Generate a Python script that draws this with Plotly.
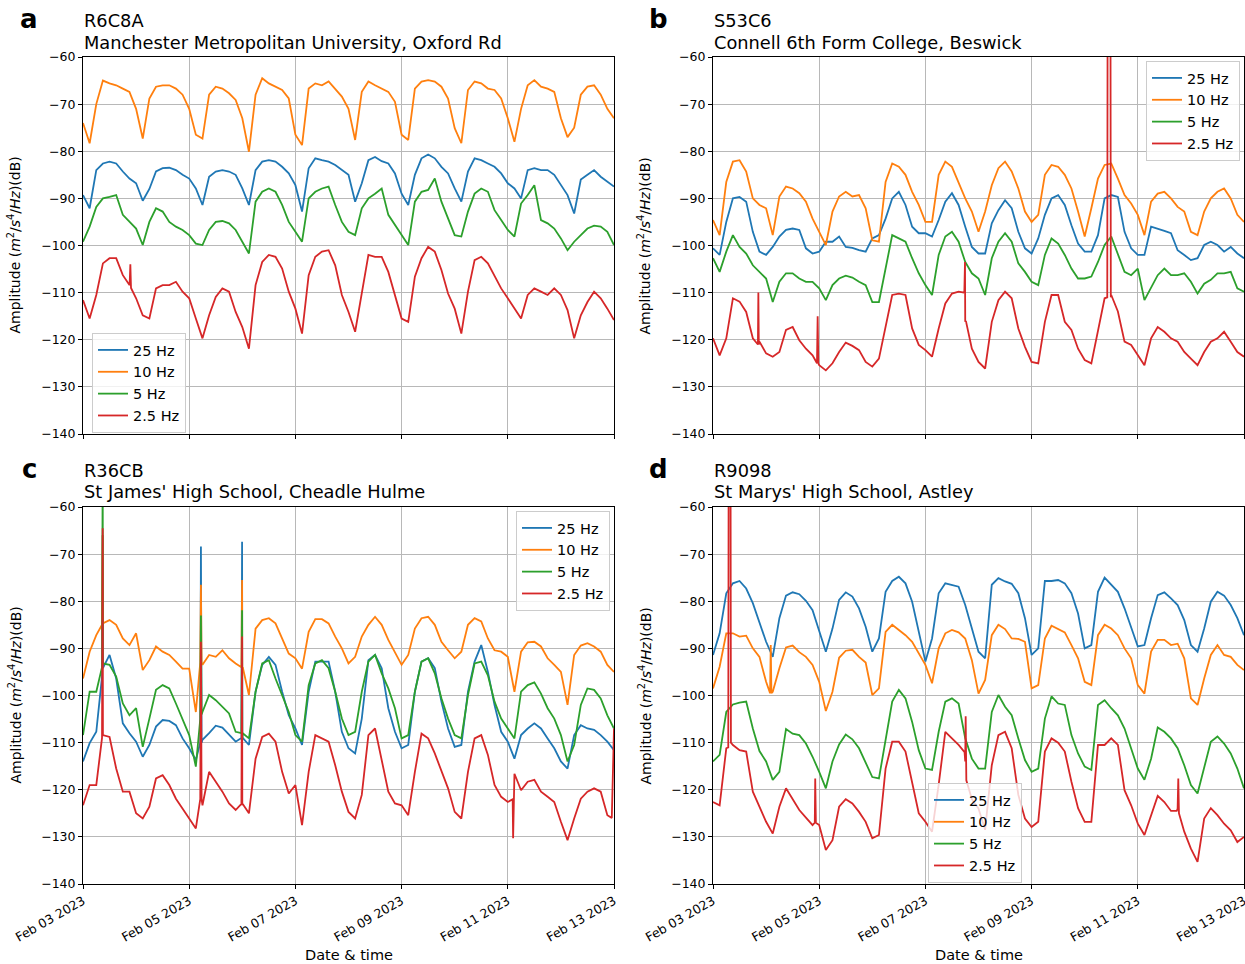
import numpy as np
import pandas as pd
import plotly.graph_objects as go

# ---------------------------------------------------------------- data
START = pd.Timestamp("2023-02-03 00:00")
HOURS = np.arange(0, 241, 3)          # 3-hourly samples, Feb 03 -> Feb 13
TICK_LABELS = ["Feb 03 2023", "Feb 05 2023", "Feb 07 2023",
               "Feb 09 2023", "Feb 11 2023", "Feb 13 2023"]
Y_TICKS = list(range(-140, -59, 10))
NAMES = ["25 Hz", "10 Hz", "5 Hz", "2.5 Hz"]
COLORS = ["#1f77b4", "#ff7f0e", "#2ca02c", "#d62728"]

# ---- panel a : R6C8A
a_25 = [-89.3, -92.1, -84, -82.6, -82.2, -82.6, -84.3, -85.8, -86.8, -90.5, -88, -84.3, -83.6, -83.5, -84, -85, -85.8, -87.9, -91.4, -85.4, -84.3, -84, -84.3, -85, -87.9, -91.4, -84, -82.2, -81.9, -82.2, -83.3, -84.7, -87.2, -92.8, -83.6, -81.5, -81.9, -82.2, -82.9, -84, -85,
        -90.7, -86.8, -81.9, -81.2, -82.1, -82.6, -84.7, -89, -91.4, -85, -81.5, -80.7, -81.5, -83.3, -84.7, -87.9, -90.7, -84.3, -81.5, -81.9, -82.6, -83.3, -84.7, -86.8, -87.9, -90, -84, -83.6, -84, -84, -85, -87.2, -89.3, -93.2, -86, -85, -84, -85.4, -86.5, -87.5]
a_10 = [-74, -78.3, -70, -65, -65.6, -66, -66.7, -67.4, -71, -77.3, -68.8, -66.3, -66, -66, -66.7, -68, -71, -76.5, -77.3, -68, -66.3, -66.7, -67.7, -69.1, -73, -80.1, -68, -64.5, -65.6, -66.3, -67, -68.8, -76.5, -78.7, -66.7, -65.6, -66, -65.2, -66.7, -68.4, -71,
        -77.6, -67.4, -65.2, -66, -66.7, -67.4, -69.5, -76.5, -77.6, -66.7, -65.2, -64.9, -65.2, -66.3, -68.8, -75.1, -78.3, -67, -65.2, -65.6, -66.7, -67, -68.8, -73, -78, -71, -66, -64.9, -66.3, -66.7, -67.4, -73, -77, -75, -68, -66.3, -66, -68, -71, -73]
a_5 = [-99.2, -96, -91.8, -90, -89.7, -89.3, -93.5, -95, -96.4, -99.9, -95, -92.1, -92.8, -95, -96, -96.7, -97.8, -99.6, -99.9, -96.7, -95, -94.8, -95.3, -96.7, -99.2, -101.7, -90.7, -88.6, -87.9, -88.6, -91.4, -95, -97.1, -99.2, -90, -88.6, -87.9, -87.5, -91.4, -95, -97.1,
       -97.8, -92.1, -90, -89, -87.9, -93.5, -95.7, -97.8, -99.9, -90.7, -88.6, -88.2, -85.8, -90.7, -94.3, -97.8, -98.1, -92.8, -89, -87.9, -88.6, -92.5, -94.6, -96.7, -98.1, -91.1, -89.3, -87.2, -94.6, -95.3, -96.4, -98.5, -101, -99.2, -97.8, -96.4, -95.8, -96, -97.1, -99.9]
a_2p5 = [-111.6, -115.5, -110.5, -103.8, -102.7, -102.7, -106.3, -108.4, -111.2, -114.8, -115.5, -109.1, -108.4, -108.4, -107.7, -109.8, -111.2, -115.5, -119.7, -114.8, -110.9, -109.1, -109.8, -114.1, -117.3, -121.9, -108.4, -103.5, -102, -102.4, -104.9, -109.8, -113.4, -118.7, -106.3, -102.4, -101.3, -101, -104.2, -110.5, -114.1,
         -118.3, -110.5, -102, -102.4, -102.4, -105.6, -110.5, -115.5, -116.2, -106.6, -102.7, -100.3, -101.3, -105.2, -110.2, -113.4, -118.7, -109.8, -103.1, -102.4, -103.8, -106.3, -109.1, -111.2, -113.4, -115.5, -110.5, -109.1, -109.8, -110.5, -109.1, -110.5, -113.7, -119.7, -114.8, -112, -109.8, -111.2, -113.4, -115.8]
a_red_extra_t = [21.1, 21.4, 21.7]
a_red_extra_v = [-108, -104, -109]

# ---- panel b : S53C6
b_25 = [-100.6, -102, -95, -90, -89.7, -90.7, -97.1, -101.3, -102, -100.3, -98.1, -96.7, -96.4, -96.7, -100.6, -101.7, -101.3, -99.2, -99.2, -98.1, -100.3, -100.5, -101, -101.3, -98.5, -97.8, -94.3, -90, -88.6, -91.4, -96, -97.4, -97.4, -98.1, -94.6, -90.7, -88.9, -91.4, -96, -100.3, -101.7,
        -101.7, -95.3, -92.5, -90.4, -92.1, -97.1, -100.6, -101.7, -98.5, -93.5, -90, -89.3, -91.4, -95.7, -99.6, -101.3, -101.3, -97.8, -90, -89.3, -89.7, -97.1, -100.6, -102, -102, -96, -96.4, -96.9, -97.4, -101, -102, -103.1, -102.7, -99.9, -99.2, -99.9, -101.3, -100.3, -101.7, -102.7]
b_10 = [-94.6, -97.8, -86.5, -82.2, -81.9, -84.3, -90, -91.4, -92.1, -97.8, -89.6, -87.5, -87.9, -88.9, -90.7, -94.3, -97.1, -99.9, -92.8, -89.6, -88.6, -89.6, -89.3, -92.1, -98.9, -99.2, -86.5, -82.6, -83.3, -85, -88.6, -91.4, -95, -95, -85, -82.2, -83.3, -86.5, -90, -92.8, -97.1,
        -92.8, -87.2, -83.6, -82.2, -84.3, -87.9, -92.8, -95, -93.5, -85, -82.9, -83.3, -85, -87.9, -92.8, -98.1, -92.1, -85.8, -82.9, -82.6, -85.8, -89.3, -91.1, -93.5, -97.8, -90.7, -89, -88.6, -90, -91.8, -92.8, -97.1, -97.8, -92.8, -90, -88.6, -87.9, -90, -93.5, -95]
b_5 = [-102.7, -105.6, -101.3, -97.8, -100.3, -101.7, -104.2, -105.6, -107, -112, -107.7, -105.9, -105.9, -107, -107.7, -107.7, -109.1, -111.6, -108.4, -107, -106.4, -106.8, -107.7, -108.4, -112, -112, -104.9, -97.8, -98.5, -99.2, -102.7, -105.9, -108.4, -110.5, -102, -98.1, -97.1, -99.2, -103.5, -105.9, -107,
       -110.5, -102.7, -99.2, -97.4, -99.2, -103.8, -105.6, -107.7, -108.4, -102, -98.5, -99.6, -102, -104.9, -107, -107, -106.6, -103.5, -99.9, -98.1, -102, -105.6, -106.3, -104.9, -111.6, -108.8, -106.3, -104.9, -106.3, -106.3, -105.9, -107.7, -110.2, -108.1, -107.3, -105.9, -105.9, -105.6, -109.1, -109.8]
b_2p5 = [-119.7, -123.3, -119.7, -111.2, -111.9, -114.1, -119.7, -120.4, -122.9, -123.6, -122.6, -117.9, -117.3, -120.1, -121.9, -123.3, -125.4, -126.5, -125, -122.6, -120.6, -121.3, -122.2, -124.7, -125.7, -124, -116.9, -110.5, -110.2, -110.5, -117.6, -121.1, -122.2, -123.6, -117.6, -112.3, -110.2, -109.8, -116.2, -121.9, -124.7,
         -126.1, -116.2, -111.6, -109.8, -111.2, -117.6, -121.5, -124.7, -125, -116.2, -110.5, -110.5, -116.2, -117.9, -121.9, -124.3, -125, -118.3, -111.2, -110.5, -114, -120.4, -121.1, -123.3, -125.4, -119.7, -117.3, -118.3, -119.7, -120.4, -122.6, -124, -125.4, -122.6, -120.4, -119.7, -118.3, -120.4, -122.6, -123.6]
b_red_extra_t = [20.3, 20.5, 20.7, 47.0, 47.3, 47.6, 113.6, 113.9, 114.3, 178.2, 178.4, 179.6, 179.8]
b_red_extra_v = [-121, -110, -121, -125, -115, -125, -110, -103.5, -116, -111, -30, -30, -111]

# ---- panel c : R36CB
c_25 = [-114, -110.1, -107.7, -94.2, -91.4, -96.4, -105.9, -108, -109.8, -113, -110.5, -106.6, -105.2, -105.4, -106.3, -109.1, -111.2, -113.7, -109.4, -108, -106.4, -106.8, -108.4, -109.8, -109.1, -110.5, -99.2, -93.5, -91.8, -93.5, -99.2, -104.2, -107, -110.5, -99.2, -92.8, -92.8, -92.8, -99.2, -107.7, -111.2,
        -112.3, -104.9, -92.5, -91.4, -94.2, -102.7, -107.7, -111.2, -110.5, -99.2, -92.8, -92.1, -94.2, -101.3, -107, -110.9, -110.5, -99.2, -92.8, -89.3, -95, -102, -107.7, -109.8, -113.4, -108.4, -107, -105.9, -107, -109.1, -111.2, -114, -115.5, -108.4, -106.3, -107, -107.3, -108.4, -109.8, -111.6]
c_10 = [-96.4, -90.7, -87.2, -84.7, -84, -85, -87.9, -89.3, -86.8, -94.6, -92.5, -89.6, -90.7, -91.4, -92.8, -94.3, -94.3, -103.5, -93.5, -91.4, -91.8, -90.4, -92.1, -93.2, -95, -99.9, -85.8, -84, -83.6, -84.7, -87.9, -91.1, -92.1, -94.3, -86.5, -83.8, -83.8, -84.7, -87.5, -90, -93.2,
        -91.8, -87.5, -85, -83.3, -85, -88.2, -90.7, -93.5, -91.4, -85.8, -83.6, -83.3, -85, -88.6, -90.4, -92.1, -90.7, -85, -83.6, -84.3, -87.9, -90.4, -90.7, -91.8, -99.2, -90.7, -88.7, -88.6, -89.6, -92.1, -93.5, -95, -102, -91.4, -89.4, -88.9, -89.6, -90.7, -93.5, -95]
c_5 = [-108.4, -99.2, -99.2, -93.2, -93.5, -96, -101.7, -104.2, -102.7, -110.9, -104.9, -98.8, -97.8, -98.5, -101.7, -105.2, -108.4, -115.1, -103.5, -99.9, -101, -102.4, -103.8, -107.7, -109.4, -109.1, -99.2, -93.2, -92.5, -96.4, -99.9, -103.5, -108.4, -109.8, -97.8, -93.2, -92.5, -94.2, -99.2, -104.9, -108.4,
       -107.7, -99.2, -92.8, -91.4, -95.3, -98.5, -102.7, -109.1, -108.4, -99.2, -92.8, -92.1, -95.3, -100.6, -104.9, -108.4, -109.1, -99.9, -93.2, -92.8, -95.7, -101.3, -104.9, -107, -109.1, -99.2, -97.8, -97.2, -99.6, -102.7, -104.9, -108.4, -114, -110.5, -102, -98.5, -98.8, -100.6, -104.2, -107]
c_2p5 = [-123.3, -119, -119, -108.4, -108.8, -115.5, -120.4, -120.4, -125, -126.1, -123.6, -117.6, -116.9, -119, -121.9, -123.9, -126.1, -128.2, -123.3, -116.2, -118.3, -120.4, -122.9, -124.3, -123.3, -125, -113.4, -108.8, -108.1, -109.8, -116.2, -120.8, -119, -127.5, -116.2, -108.4, -109.1, -109.8, -114.8, -120.4, -124.7,
         -126.1, -121.1, -108.4, -107, -113.4, -120.4, -122.9, -123.3, -125.4, -116.2, -108.1, -109.1, -112.3, -115.8, -119.7, -124.7, -126.1, -116.2, -109.1, -108.4, -112.6, -119, -121.5, -122.6, -116.6, -120.1, -118.3, -117.9, -120.4, -121.5, -122.6, -126.8, -130.7, -126.1, -121.9, -120.4, -119.7, -120.4, -125.4, -107]
c_spike_t = [8.6, 8.9, 53.0, 53.3, 53.6, 71.6, 71.9, 72.2]
c_spike_25 = [-96, -66, -110, -68.4, -110, -109, -67.4, -109]
c_spike_10 = [-85, -66, -93, -76.5, -93, -94, -75.5, -94]
c_spike_5 = [-94, -50, -105, -83, -104, -108, -81.9, -108]
c_spike_2p5 = [-109, -64.5, -122, -88.6, -122, -123, -87.5, -123]
c_red_extra_t = [194.2, 194.4, 194.7, 239.0]
c_red_extra_v = [-122, -130.3, -118, -126]

# ---- panel d : R9098
d_25 = [-91.4, -86.8, -78.3, -76.2, -75.7, -77.3, -80.4, -84.3, -88.6, -91.8, -83.6, -78.8, -78.1, -78.5, -79.9, -81.9, -86.5, -90.7, -85.8, -79.7, -78.1, -79, -81.5, -85.4, -90.7, -87.9, -78, -75.7, -74.8, -76.2, -80.1, -86.5, -92.8, -87.9, -78.3, -76.2, -76.5, -76.9, -80.8, -85.8, -90.7,
        -92.1, -76.5, -75.1, -75.8, -76.3, -78.3, -83.6, -91.4, -90, -75.7, -75.7, -75.5, -76.2, -78.3, -82.6, -90, -89.3, -78, -75, -76.5, -78, -81.5, -85.8, -89.6, -89.3, -83.6, -78.7, -78.1, -79.4, -80.8, -84, -89.3, -90.7, -85.8, -80.1, -78, -78.8, -80.8, -83.6, -87.2]
d_10 = [-98.5, -93.9, -86.8, -86.8, -87.5, -87.3, -90, -91.8, -97.1, -99.2, -94.2, -89.8, -89.4, -90.8, -91.8, -93.5, -97.1, -103.3, -99.2, -92, -90.5, -90.3, -91.8, -93, -99.9, -98.5, -86.5, -85, -86.1, -87.2, -88.6, -91.1, -93.5, -97.4, -90, -86.8, -86.1, -86.6, -87.9, -92.5, -99.6,
        -96.7, -87.2, -85, -85.9, -87.9, -88, -88.6, -98.5, -97.8, -87.9, -85.2, -85.9, -86.6, -89.3, -92.1, -97.1, -97.8, -87.2, -85, -85.8, -87.2, -90, -92.1, -97.8, -99.6, -90.7, -88.2, -88.2, -89.3, -89, -92.1, -100.6, -102, -96.4, -91.4, -89.3, -91.4, -91.8, -93.5, -94.6]
d_5 = [-114, -112.6, -103.5, -101.9, -101.5, -101.3, -107, -111.8, -114, -117.9, -116.2, -107.1, -108.1, -108.4, -110.2, -113, -116.2, -119.7, -114, -110.4, -108.3, -109.3, -111.2, -114.4, -117.3, -117.6, -109.1, -101.3, -98.8, -100.6, -105.6, -111.6, -115.5, -115.8, -107.7, -101.3, -100.6, -101.7, -109.1, -113.4, -115.5,
       -115.5, -103.5, -99.9, -102.4, -104.2, -109.1, -113.7, -116.2, -115.5, -104.9, -100.2, -101.7, -102, -108.4, -112.3, -115.1, -115.8, -102, -101, -102.7, -104.2, -107, -111.2, -115.5, -117.9, -113.4, -106.8, -107.7, -109.1, -111.2, -114.8, -119, -120.8, -115.5, -109.8, -108.7, -110.2, -112.3, -115.5, -119.7]
d_2p5 = [-122.6, -123.3, -111.2, -110.5, -111.6, -111.9, -120.4, -123.6, -126.8, -129.3, -123.6, -119.7, -122, -124.3, -125.9, -127.5, -127.5, -132.8, -130.7, -123.6, -122, -122.9, -124.7, -126.8, -130.3, -129.6, -115.5, -109.8, -109.8, -111.9, -118.3, -125, -126.8, -128.9, -118.9, -107.7, -109.1, -110.5, -114, -122, -124,
         -128.5, -114.8, -108.4, -107.7, -111.2, -121.1, -126.1, -127.9, -126.8, -111.9, -109.1, -110, -111.9, -118.3, -123.9, -126.8, -126.8, -110.5, -110.5, -109.1, -110.5, -120.1, -123.3, -127.2, -129.6, -125.4, -121.3, -122.6, -124.5, -124, -128.9, -132.5, -135.3, -126.1, -123.9, -125.4, -127.2, -128.6, -131.1, -130]
d_orange_extra_t = [25.8, 26.1, 26.4]
d_orange_extra_v = [-99.5, -89.3, -99.5]
d_red_extra_t = [6.9, 7.1, 7.9, 8.1, 46.0, 46.2, 46.5, 113.7, 114.2, 114.5, 209.6, 210.3, 210.6]
d_red_extra_v = [-111, -40, -40, -110, -127, -117.6, -127, -112, -104.4, -118, -124.5, -117.6, -125]

STATIONS = ["R6C8A", "S53C6", "R36CB", "R9098"]
SITES = ["Manchester Metropolitan University, Oxford Rd",
         "Connell 6th Form College, Beswick",
         "St James' High School, Cheadle Hulme",
         "St Marys' High School, Astley"]
LETTERS = ["a", "b", "c", "d"]


# ---------------------------------------------------------------- helpers
def series(vals, ext_t=(), ext_v=()):
    assert len(vals) == len(HOURS), len(vals)
    t = np.concatenate([HOURS.astype(float), np.asarray(ext_t, float)])
    v = np.concatenate([np.asarray(vals, float), np.asarray(ext_v, float)])
    o = np.argsort(t, kind="stable")
    return START + pd.to_timedelta(t[o], unit="h"), v[o]


panels = [
    [series(a_25), series(a_10), series(a_5), series(a_2p5, a_red_extra_t, a_red_extra_v)],
    [series(b_25), series(b_10), series(b_5), series(b_2p5, b_red_extra_t, b_red_extra_v)],
    [series(c_25, c_spike_t, c_spike_25), series(c_10, c_spike_t, c_spike_10),
     series(c_5, c_spike_t, c_spike_5),
     series(c_2p5, list(c_spike_t) + c_red_extra_t, list(c_spike_2p5) + c_red_extra_v)],
    [series(d_25), series(d_10, d_orange_extra_t, d_orange_extra_v), series(d_5),
     series(d_2p5, d_red_extra_t, d_red_extra_v)],
]

W, H = 1245, 964
FONT = "DejaVu Sans"
XDOM = [[83 / W, 614 / W], [713 / W, 1244 / W], [83 / W, 614 / W], [713 / W, 1244 / W]]
YDOM = [[1 - 434 / H, 1 - 57 / H], [1 - 434 / H, 1 - 57 / H],
        [1 - 884 / H, 1 - 507 / H], [1 - 884 / H, 1 - 507 / H]]
LEGEND_POS = [  # x, y, xanchor (paper coords from pixel positions)
    (92 / W, 1 - 333 / H, "left"),
    (1240 / W, 1 - 61 / H, "right"),
    (610 / W, 1 - 511 / H, "right"),
    (928 / W, 1 - 783 / H, "left"),
]

fig = go.Figure()
tickvals = pd.date_range(START, periods=len(TICK_LABELS), freq="2D")
layout = dict(width=W, height=H, margin=dict(l=0, r=0, t=0, b=0, autoexpand=False),
              paper_bgcolor="white", plot_bgcolor="white",
              font=dict(family=FONT, size=13, color="black"),
              showlegend=True)
annotations = []

for p in range(4):
    sfx = "" if p == 0 else str(p + 1)
    lg = "legend" if p == 0 else f"legend{p + 1}"
    for i, (x, y) in enumerate(panels[p]):
        fig.add_trace(go.Scatter(
            x=x, y=y, mode="lines", name=NAMES[i],
            line=dict(color=COLORS[i], width=1.8),
            xaxis="x" + sfx, yaxis="y" + sfx, legend=lg,
            legendgroup=f"{p}_{i}", showlegend=True))
    bottom = p >= 2
    layout["xaxis" + sfx] = dict(
        domain=XDOM[p], anchor="y" + sfx, type="date", automargin=False,
        range=[START, START + pd.Timedelta(days=10)],
        tickmode="array", tickvals=list(tickvals), ticktext=TICK_LABELS,
        showticklabels=bottom, tickangle=-30, ticklabeloverflow="allow",
        tickfont=dict(family=FONT, size=12.5),
        showgrid=True, gridcolor="#b8b8b8", gridwidth=1,
        showline=True, linecolor="black", linewidth=1, mirror=True,
        ticks="outside", ticklen=4, tickcolor="black", zeroline=False)
    layout["yaxis" + sfx] = dict(
        domain=YDOM[p], anchor="x" + sfx, range=[-140, -60], automargin=False,
        tickmode="array", tickvals=Y_TICKS, ticklabeloverflow="allow",
        tickfont=dict(family=FONT, size=12.5),
        showgrid=True, gridcolor="#b8b8b8", gridwidth=1,
        showline=True, linecolor="black", linewidth=1, mirror=True,
        ticks="outside", ticklen=4, tickcolor="black", zeroline=False)
    lx, ly, xa = LEGEND_POS[p]
    layout[lg] = dict(x=lx, y=ly, xanchor=xa, yanchor="top",
                      xref="paper", yref="paper",
                      bgcolor="rgba(255,255,255,0.8)", bordercolor="#cccccc",
                      borderwidth=1, tracegroupgap=0,
                      font=dict(family=FONT, size=14.5),
                      itemwidth=30)

    # texts
    left_px = XDOM[p][0] * W
    top_px = (1 - YDOM[p][1]) * H
    annotations.append(dict(text="<b>" + LETTERS[p] + "</b>", xref="paper", yref="paper",
                            x=(left_px - 54) / W, y=1 - (top_px - 38) / H,
                            xanchor="center", yanchor="middle", showarrow=False,
                            font=dict(family=FONT, size=26, color="black")))
    annotations.append(dict(text=STATIONS[p], xref="paper", yref="paper",
                            x=(left_px - 1) / W, y=1 - (top_px - 37) / H,
                            xanchor="left", yanchor="middle", showarrow=False,
                            font=dict(family=FONT, size=17.8, color="black")))
    annotations.append(dict(text=SITES[p], xref="paper", yref="paper",
                            x=(left_px - 1) / W, y=1 - (top_px - 15) / H,
                            xanchor="left", yanchor="middle", showarrow=False,
                            font=dict(family=FONT, size=17.8, color="black")))
    annotations.append(dict(
        text="Amplitude (<i>m</i><sup>2</sup>/<i>s</i><sup>4</sup>/<i>Hz</i>)(dB)",
        xref="paper", yref="paper", x=(left_px - 68) / W,
        y=sum(YDOM[p]) / 2, xanchor="center", yanchor="middle",
        textangle=-90, showarrow=False, font=dict(family=FONT, size=14, color="black")))
    if bottom:
        annotations.append(dict(text="Date & time", xref="paper", yref="paper",
                                x=sum(XDOM[p]) / 2, y=1 - 955 / H,
                                xanchor="center", yanchor="middle", showarrow=False,
                                font=dict(family=FONT, size=14.5, color="black")))

layout["annotations"] = annotations
fig.update_layout(**layout)
fig.write_html(
    "out.html",
    config={"displayModeBar": False},
    post_script="document.body.style.margin='0px';document.body.style.overflow='hidden';")
